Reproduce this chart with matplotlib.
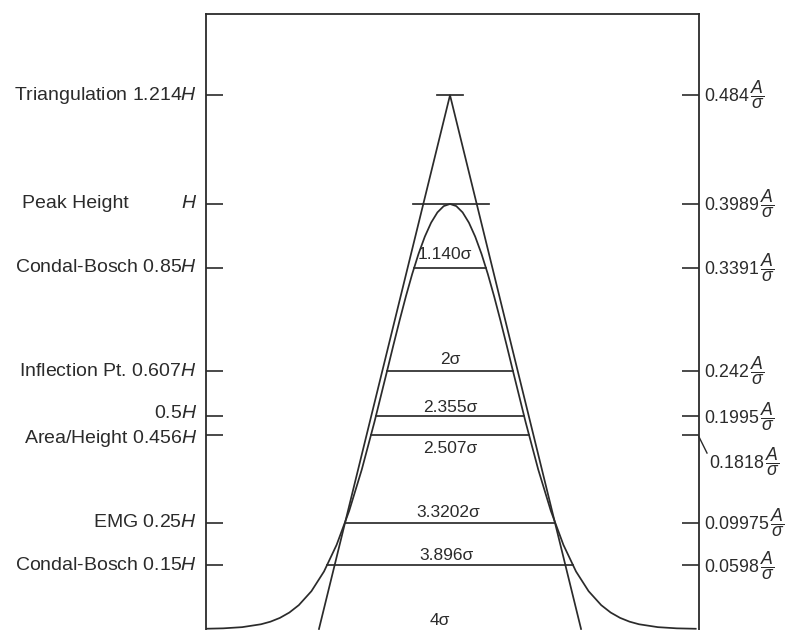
import matplotlib
matplotlib.use("Agg")
import matplotlib.pyplot as plt
from matplotlib.transforms import blended_transform_factory
from matplotlib.lines import Line2D

plt.rcParams['font.family'] = ['Liberation Sans', 'DejaVu Sans']
plt.rcParams['mathtext.fontset'] = 'custom'
plt.rcParams['mathtext.rm'] = 'Liberation Sans'
plt.rcParams['mathtext.it'] = 'Liberation Sans:italic'
plt.rcParams['mathtext.bf'] = 'Liberation Sans:bold'
plt.rcParams['mathtext.sf'] = 'Liberation Sans'

# ---------------- data (x in sigma units, y in units of peak height H) ----------------
curve_x = [-3.9, -3.6, -3.3, -3.0, -2.85, -2.7, -2.55, -2.4, -2.2, -2.0, -1.8, -1.6, -1.4,
           -1.2, -1.0, -0.9, -0.8, -0.7, -0.6, -0.5, -0.4, -0.3, -0.2, -0.1, 0.0,
           0.1, 0.2, 0.3, 0.4, 0.5, 0.6, 0.7, 0.8, 0.9, 1.0,
           1.2, 1.4, 1.6, 1.8, 2.0, 2.2, 2.4, 2.55, 2.7, 2.85, 3.0, 3.3, 3.6, 3.9]
curve_y = [0.0005, 0.0015, 0.0043, 0.0111, 0.0172, 0.0261, 0.0387, 0.0561, 0.0889, 0.1353,
           0.1979, 0.2780, 0.3753, 0.4868, 0.6065, 0.6670, 0.7261, 0.7827, 0.8353, 0.8825,
           0.9231, 0.9560, 0.9802, 0.9950, 1.0,
           0.9950, 0.9802, 0.9560, 0.9231, 0.8825, 0.8353, 0.7827, 0.7261, 0.6670, 0.6065,
           0.4868, 0.3753, 0.2780, 0.1979, 0.1353, 0.0889, 0.0561, 0.0387, 0.0261, 0.0172,
           0.0111, 0.0043, 0.0015, 0.0005]

# triangle (tangents through inflection points) as drawn
tri_x = [-2.08, 0.0, 2.08]
tri_y = [0.0, 1.256, 0.0]

# labelled heights (left axis) -- drawn positions
left_heights = [1.256, 1.0, 0.85, 0.607, 0.5, 0.456, 0.25, 0.15]
left_labels = ["Triangulation 1.214$H$", "$H$", "Condal-Bosch 0.85$H$",
               "Inflection Pt. 0.607$H$", "0.5$H$", "Area/Height 0.456$H$",
               "EMG 0.25$H$", "Condal-Bosch 0.15$H$"]
right_values = ["0.484", "0.3989", "0.3391", "0.242", "0.1995", "0.1818", "0.09975", "0.0598"]

# width lines: heights and widths (in sigma)
width_heights = [0.85, 0.607, 0.5, 0.456, 0.25, 0.15]
width_values = [1.140, 2.0, 2.355, 2.507, 3.3202, 3.896]
width_labels = ["1.140σ", "2σ", "2.355σ", "2.507σ", "3.3202σ", "3.896σ"]
base_label = "4σ"

# ---------------- figure ----------------
W, Hpx = 786, 630
fig = plt.figure(figsize=(W / 100, Hpx / 100), dpi=100)
ax_left, ax_right, ax_top, ax_bottom = 206, 699, 14, 630
ax = fig.add_axes([ax_left / W, 1 - ax_bottom / Hpx,
                   (ax_right - ax_left) / W, (ax_bottom - ax_top) / Hpx])

ink = '#2b2b2b'
lw = 1.25
ax.set_xlim(-3.873, 3.952)
ax.set_ylim(-0.0024, 1.447)

ax.plot(curve_x, curve_y, color=ink, lw=lw, solid_joinstyle='round')
ax.plot(tri_x, tri_y, color=ink, lw=lw, clip_on=False)

# bars at apex and at peak height
ax.plot([-0.21, 0.21], [tri_y[1], tri_y[1]], color=ink, lw=lw)
ax.plot([-0.58, 0.62], [1.0, 1.0], color=ink, lw=lw)

# width lines
for h, w in zip(width_heights, width_values):
    ax.plot([-w / 2, w / 2], [h, h], color=ink, lw=lw)

fs_in = 12.5
label_pos = {  # (x offset, y) of inner labels
    "1.140σ": (-0.08, 0.882),
    "2σ": (0.0, 0.633),
    "2.355σ": (0.0, 0.522),
    "2.507σ": (0.0, 0.424),
    "3.3202σ": (-0.03, 0.275),
    "3.896σ": (-0.05, 0.172),
}
for lab in width_labels:
    x, y = label_pos[lab]
    ax.text(x, y, lab, ha='center', va='center', fontsize=fs_in, color=ink)
ax.text(-0.16, 0.021, base_label, ha='center', va='center', fontsize=fs_in, color=ink)

# spines / ticks
for s in ['left', 'right', 'top']:
    ax.spines[s].set_color(ink)
    ax.spines[s].set_linewidth(1.3)
ax.spines['bottom'].set_visible(False)
ax.set_xticks([])
ax.set_yticks(left_heights)
ax.set_yticklabels([])
ax.tick_params(axis='y', which='both', direction='in', length=12.5, width=1.2,
               color=ink, left=True, right=True, labelleft=False, labelright=False)

fs = 14.0
tr = blended_transform_factory(fig.transFigure, ax.transData)
nudge = {"0.5$H$": 0.007, "Area/Height 0.456$H$": -0.007}
for h, lab in zip(left_heights, left_labels):
    fig.text(197 / W, h + nudge.get(lab, 0.0), lab, transform=tr, ha='right', va='center',
             fontsize=fs, color=ink)
fig.text(22 / W, 1.0, "Peak Height", transform=tr, ha='left', va='center', fontsize=fs, color=ink)

# right labels
fs_r = 12.8
for h, val in zip(left_heights, right_values):
    x = 704
    y = h
    if val == "0.1818":
        x = 709
        y = 0.393
    fig.text(x / W, y, val + r"$\,\dfrac{A}{\sigma}$", transform=tr, ha='left', va='center',
             fontsize=fs_r, color=ink)

# leader line for 0.1818
fig.add_artist(Line2D([699 / W, 707 / W], [0.452, 0.414], transform=tr, color=ink, lw=1.0))

fig.savefig("out.png", dpi=100)
